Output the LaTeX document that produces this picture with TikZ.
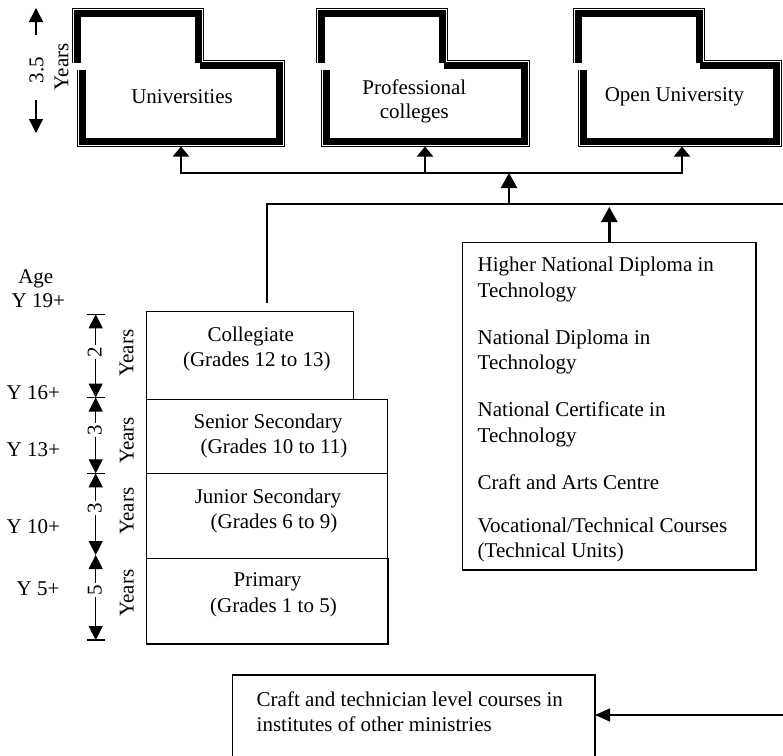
\documentclass[tikz,border=0pt]{standalone}
\usepackage{fontspec}
\setmainfont{Liberation Serif}
\usetikzlibrary{arrows.meta}

% Folder-like outline: a tab on top-left and a body below it.
% #1 = centre x of the tab's left wall, #2 = centre x of the body's right wall
\newcommand\drawfolder[2]{%
  \draw[folderband] (#1,63) -- (#1,12.5) -- ({#1+123},12.5) -- ({#1+123},63);
  \draw[folderband] ({#1+5},70) -- ({#1+5},142) -- (#2,142) -- (#2,64) -- ({#1+123},64);
  \draw[folderseam] ({#1-3},63) -- ({#1-3},9.5) -- ({#1+126},9.5) -- ({#1+126},61)
                    -- ({#2+3},61) -- ({#2+3},145) -- ({#1+2},145) -- ({#1+2},70);
}

\begin{document}
\begin{tikzpicture}[x=1pt,y=-1pt,
  txt/.style={font=\fontsize{21}{25.3}\selectfont, inner sep=0pt, outer sep=0pt},
  rtxt/.style={txt, rotate=90, anchor=base},
  numlbl/.style={txt, rotate=90, anchor=base, fill=white, inner sep=2pt},
  tierbox/.style={draw, line width=1.3pt, inner sep=0pt, outer sep=0pt, anchor=north west},
  conn/.style={line width=1.3pt, line cap=rect},
  feed/.style={line width=2pt, -{Triangle[length=10pt,width=16pt]}},
  risearrow/.style={line width=2.5pt, -{Triangle[length=15pt,width=16pt]}},
  yearspan/.style={line width=1.3pt, {Triangle[length=14pt,width=14pt]}-{Triangle[length=14pt,width=14pt]}},
  halfspan/.style={line width=1.3pt, -{Triangle[length=14pt,width=14pt]}},
  yeartick/.style={line width=1.3pt},
  sidefeed/.style={line width=1.3pt, -{Triangle[length=15pt,width=13pt]}},
  folderband/.style={line width=9pt, line join=miter},
  folderseam/.style={white, line width=0.8pt, line join=miter},
]
\useasboundingbox (0,0) rectangle (783,755);
\clip (0,0) rectangle (783,755);

% ---- higher education institutions ----
\drawfolder{76.5}{280.5}
\drawfolder{320.5}{525.5}
\drawfolder{577.2}{777.2}
\node[txt, anchor=base] (uniT) at (182,103) {Universities};
\node[txt, anchor=north, align=center] (profT) at (414.3,76.3) {\strut Professional\\[-1.3pt]colleges};
\node[txt, anchor=base] (openT) at (674.5,101.7) {Open University};

% duration of university studies
\coordinate (t0) at (36,8);
\coordinate (t1) at (36,35);
\coordinate (t2) at (36,100);
\coordinate (t3) at (36,133);
\draw[halfspan] (t1) -- (t0);
\draw[halfspan] (t2) -- (t3);
\node[rtxt] (durT) at (43.3,70) {3.5};
\node[rtxt] (durY) at (68.3,66.7) {Years};

% ---- school system ----
\node[tierbox, minimum width=206.6pt, minimum height=87.6pt] (coll) at (146.7,311.7) {};
\node[tierbox, minimum width=241pt, minimum height=74pt] (senior) at (146.7,399.3) {};
\node[tierbox, minimum width=241pt, minimum height=85pt] (junior) at (146.7,473.3) {};
\node[tierbox, minimum width=241.3pt, minimum height=85.7pt] (primary) at (146.7,558.3) {};

\node[txt, anchor=north, align=center] (collT) at (250.8,324) {\strut Collegiate\\[-0.3pt]\hspace*{12pt}(Grades 12 to 13)};
\node[txt, anchor=north, align=center] (seniorT) at (268,410.6) {\strut Senior Secondary\\[-0.3pt]\hspace*{12pt}(Grades 10 to 11)};
\node[txt, anchor=north, align=center] (juniorT) at (268,485.6) {\strut Junior Secondary\\[-0.3pt]\hspace*{12pt}(Grades 6 to 9)};
\node[txt, anchor=north, align=center] (primaryT) at (267.5,569) {\strut Primary\\[0.3pt]\hspace*{12pt}(Grades 1 to 5)};

% ages
\node[txt, anchor=base west] (age) at (18.3,283.3) {Age};
\node[txt, anchor=base west] (a19) at (11.7,307.7) {Y 19+};
\node[txt, anchor=base west] (a16) at (6.7,399.3) {Y 16+};
\node[txt, anchor=base west] (a13) at (6.7,456.7) {Y 13+};
\node[txt, anchor=base west] (a10) at (6.7,533.3) {Y 10+};
\node[txt, anchor=base west] (a5) at (16.7,595) {Y 5+};

% durations of the school stages
\coordinate (d0) at (95.7,314.3);
\coordinate (d1) at (95.7,397.5);
\coordinate (d2) at (95.7,473.3);
\coordinate (d3) at (95.7,555);
\coordinate (d4) at (95.7,640);
\draw[yearspan] (d0) -- (d1);
\draw[yearspan] (d1) -- (d2);
\draw[yearspan] (d2) -- (d3);
\draw[yearspan] (d3) -- (d4);
\foreach \p in {d0,d1,d2,d4}
  \draw[yeartick] ([xshift=-9pt]\p) -- ([xshift=9pt]\p);
\node[numlbl] (n2) at (101.5,352) {2};
\node[numlbl] (n3a) at (101.5,430) {3};
\node[numlbl] (n3b) at (101.5,508) {3};
\node[numlbl] (n5) at (101.5,590) {5};
\node[rtxt] (yColl) at (133.3,353) {Years};
\node[rtxt] (ySen) at (133.5,440.5) {Years};
\node[rtxt] (yJun) at (133.5,511) {Years};
\node[rtxt] (yPri) at (133.5,593) {Years};

% ---- technical and vocational education ----
\node[tierbox, minimum width=293.3pt, minimum height=327.5pt] (voc) at (462.7,242.5) {};
\node[txt, anchor=north west, align=left] (vocT) at (477.7,254) {\strut Higher National Diploma in\\Technology\\[21.9pt]National Diploma in\\Technology\\[21.9pt]National Certificate in\\Technology\\[21.9pt]Craft and Arts Centre\\[18pt]Vocational/Technical Courses\\(Technical Units)};

\node[tierbox, minimum width=362.3pt, minimum height=95pt] (craft) at (232.7,675) {};
\node[txt, anchor=north west, align=left] (craftT) at (256.7,688.3) {\strut Craft and technician level courses in\\institutes of other ministries};

% ---- connectors ----
\coordinate (uniB) at (181,146.5);
\coordinate (profB) at (425,146.5);
\coordinate (openB) at (682,146.5);
\coordinate (busW) at (181,173);
\coordinate (busE) at (682,173);
\coordinate (busM) at (509,173);
\coordinate (trunkM) at (509,204);
\coordinate (trunkW) at (267,204);
\coordinate (trunkE) at (783,204);
\coordinate (vocUp) at (609.3,204);
\coordinate (sideIn) at (783,715);

\draw[conn] (busW) -- (busE);
\draw[feed] (busW) -- (uniB);
\draw[feed] (busW -| profB) -- (profB);
\draw[feed] (busE) -- (openB);
\draw[risearrow] (trunkM) -- (busM);
\draw[conn] (trunkW) -- (trunkE);
\draw[conn, shorten >=9pt] (trunkW) -- (coll.north -| trunkW);
\draw[risearrow, shorten >=3pt] (voc.north -| vocUp) -- (vocUp);
\draw[sidefeed] (sideIn) -- (craft.east |- sideIn);
\end{tikzpicture}
\end{document}
